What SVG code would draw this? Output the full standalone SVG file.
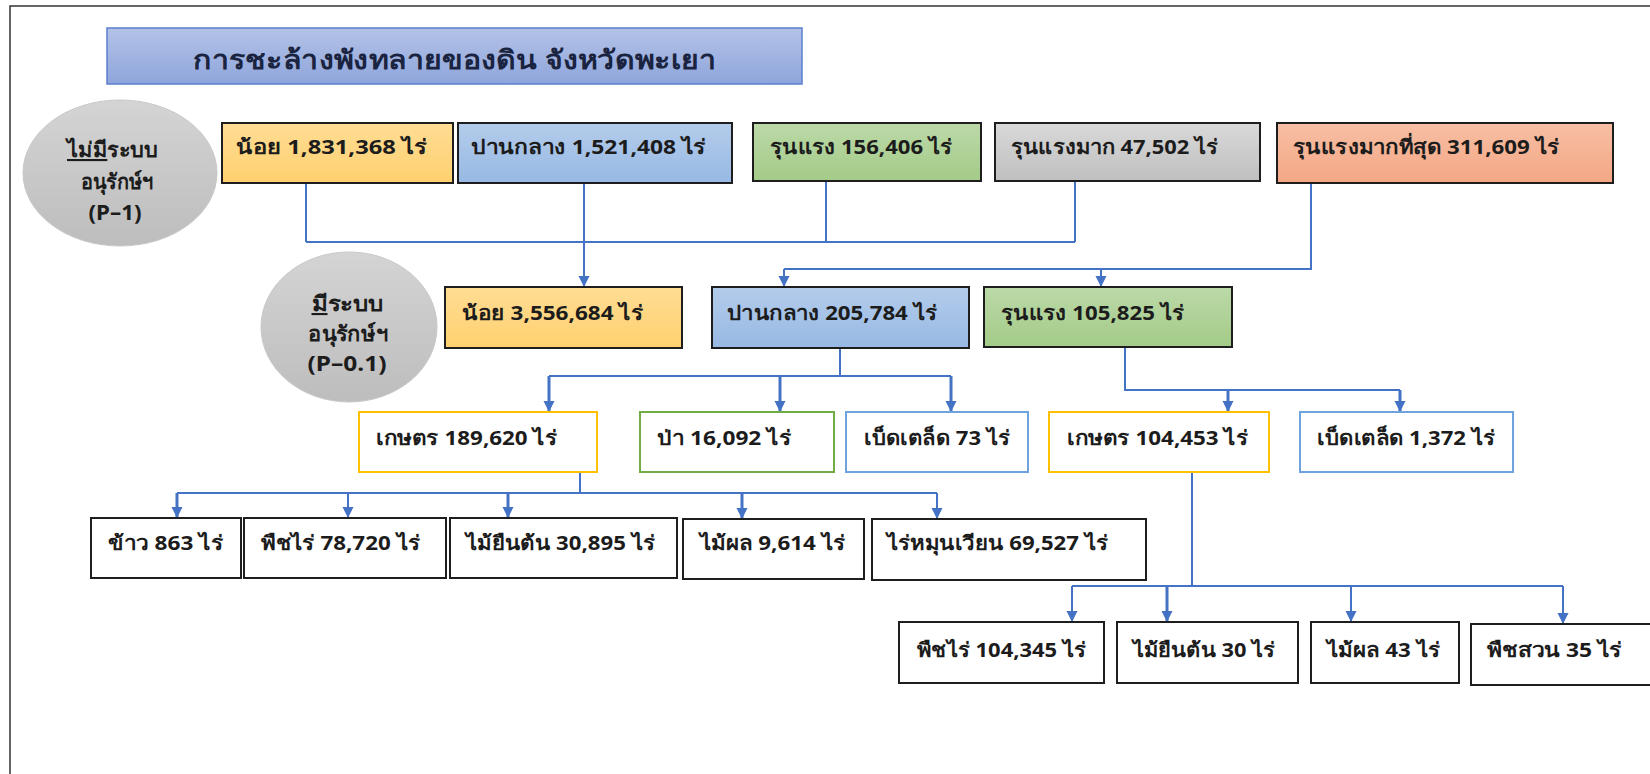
<svg xmlns="http://www.w3.org/2000/svg" width="1650" height="774" viewBox="0 0 1650 774">
  <defs>
    <linearGradient id="gTitle" x1="0" y1="0" x2="0" y2="1">
      <stop offset="0" stop-color="#b3c2e6"/>
      <stop offset="1" stop-color="#8fa6dc"/>
    </linearGradient>
    <linearGradient id="gCircle" x1="0" y1="0" x2="0" y2="1">
      <stop offset="0" stop-color="#d4d4d4"/>
      <stop offset="1" stop-color="#bdbdbd"/>
    </linearGradient>
    <linearGradient id="gYellow" x1="0" y1="0" x2="0" y2="1">
      <stop offset="0" stop-color="#ffdd94"/>
      <stop offset="1" stop-color="#ffd06f"/>
    </linearGradient>
    <linearGradient id="gBlue" x1="0" y1="0" x2="0" y2="1">
      <stop offset="0" stop-color="#b4cceb"/>
      <stop offset="1" stop-color="#97b9e3"/>
    </linearGradient>
    <linearGradient id="gGreen" x1="0" y1="0" x2="0" y2="1">
      <stop offset="0" stop-color="#bcd9a8"/>
      <stop offset="1" stop-color="#a3cb88"/>
    </linearGradient>
    <linearGradient id="gGray" x1="0" y1="0" x2="0" y2="1">
      <stop offset="0" stop-color="#d9d9d9"/>
      <stop offset="1" stop-color="#bfbfbf"/>
    </linearGradient>
    <linearGradient id="gSalmon" x1="0" y1="0" x2="0" y2="1">
      <stop offset="0" stop-color="#f7bfa4"/>
      <stop offset="1" stop-color="#f4a785"/>
    </linearGradient>
    <marker id="arrow" viewBox="0 0 10 10" refX="10" refY="5" markerWidth="11" markerHeight="13" markerUnits="userSpaceOnUse" orient="auto">
      <path d="M0,0 L10,5 L0,10 z" fill="#4472c4"/>
    </marker>
    <style>
      text { font-family: "Noto Sans", "DejaVu Sans", sans-serif; font-weight: bold; fill: #1c1c1c; }
      .lbl { font-size: 20px; }
      .ttl { font-size: 26px; fill: #1a2440; }
      .cir { font-size: 21px; text-anchor: middle; }
      .solid { stroke: #1e1e1e; stroke-width: 2; }
      .plain { fill: #ffffff; stroke: #1e1e1e; stroke-width: 2; }
      .gold { fill: #ffffff; stroke: #ffc000; stroke-width: 2; }
      .leaf { fill: #ffffff; stroke: #70ad47; stroke-width: 2; }
      .sky { fill: #ffffff; stroke: #6fa3dd; stroke-width: 2; }
      .con { fill: none; stroke: #4472c4; stroke-width: 2; }
      .drop { fill: none; stroke: #4472c4; stroke-width: 3; marker-end: url(#arrow); }
      .drop2 { fill: none; stroke: #4472c4; stroke-width: 2; marker-end: url(#arrow); }
    </style>
  </defs>

  <rect x="0" y="0" width="1650" height="774" fill="#ffffff"/>
  <!-- page frame -->
  <path d="M10,774 V6 H1650" fill="none" stroke="#333333" stroke-width="1.5"/>

  <!-- title banner -->
  <g id="title">
    <rect x="107" y="28" width="695" height="56" fill="url(#gTitle)" stroke="#5b7fcf" stroke-width="1.5"/>
    <text class="ttl" x="193" y="69" textLength="523" lengthAdjust="spacingAndGlyphs">การชะล้างพังทลายของดิน จังหวัดพะเยา</text>
  </g>

  <!-- conservation-status circles -->
  <g id="no-conservation">
    <ellipse cx="120" cy="173" rx="97" ry="73" fill="url(#gCircle)" stroke="#c8c8c8" stroke-width="1"/>
    <text class="cir" x="112" y="157" textLength="90" lengthAdjust="spacingAndGlyphs"><tspan text-decoration="underline">ไม่มี</tspan>ระบบ</text>
    <text class="cir" x="117" y="189" textLength="73" lengthAdjust="spacingAndGlyphs">อนุรักษ์ฯ</text>
    <text class="cir" x="115" y="220" textLength="53" lengthAdjust="spacingAndGlyphs">(P–1)</text>
  </g>
  <g id="with-conservation">
    <ellipse cx="349" cy="327" rx="88" ry="75" fill="url(#gCircle)" stroke="#c8c8c8" stroke-width="1"/>
    <text class="cir" x="347" y="311" textLength="71" lengthAdjust="spacingAndGlyphs"><tspan text-decoration="underline">มี</tspan>ระบบ</text>
    <text class="cir" x="348" y="341" textLength="80" lengthAdjust="spacingAndGlyphs">อนุรักษ์ฯ</text>
    <text class="cir" x="347" y="371" textLength="79" lengthAdjust="spacingAndGlyphs">(P–0.1)</text>
  </g>

  <!-- connectors -->
  <g id="connectors">
    <path class="con" d="M306,183 V242 M826,181 V242 M1075,181 V242 M306,242 H1075"/>
    <path class="drop2" d="M584,183 V287"/>
    <path class="con" d="M1311,183 V269 H784"/>
    <path class="drop2" d="M784,269 V287"/>
    <path class="drop2" d="M1101,269 V287"/>

    <path class="con" d="M840,348 V376 M549,376 H951"/>
    <path class="drop" d="M549,376 V412"/>
    <path class="drop" d="M780,376 V412"/>
    <path class="drop" d="M951,376 V412"/>

    <path class="con" d="M1125,347 V390 H1400"/>
    <path class="drop" d="M1228,390 V412"/>
    <path class="drop" d="M1400,390 V412"/>

    <path class="con" d="M580,472 V493 M177,493 H937"/>
    <path class="drop" d="M177,493 V518"/>
    <path class="drop2" d="M348,493 V518"/>
    <path class="drop" d="M508,493 V518"/>
    <path class="drop" d="M742,493 V519"/>
    <path class="drop2" d="M937,493 V519"/>

    <path class="con" d="M1192,472 V586 M1072,586 H1563"/>
    <path class="drop2" d="M1072,586 V622"/>
    <path class="drop" d="M1167,586 V622"/>
    <path class="drop2" d="M1351,586 V622"/>
    <path class="drop2" d="M1563,586 V624"/>
  </g>

  <!-- erosion classes without conservation -->
  <g id="p1-low">
    <rect class="solid" x="222" y="123" width="231" height="60" fill="url(#gYellow)"/>
    <text class="lbl" x="236" y="154" textLength="191" lengthAdjust="spacingAndGlyphs">น้อย 1,831,368 ไร่</text>
  </g>
  <g id="p1-moderate">
    <rect class="solid" x="458" y="123" width="274" height="60" fill="url(#gBlue)"/>
    <text class="lbl" x="471" y="154" textLength="235" lengthAdjust="spacingAndGlyphs">ปานกลาง 1,521,408 ไร่</text>
  </g>
  <g id="p1-severe">
    <rect class="solid" x="753" y="123" width="228" height="58" fill="url(#gGreen)"/>
    <text class="lbl" x="770" y="154" textLength="182" lengthAdjust="spacingAndGlyphs">รุนแรง 156,406 ไร่</text>
  </g>
  <g id="p1-very-severe">
    <rect class="solid" x="995" y="123" width="265" height="58" fill="url(#gGray)"/>
    <text class="lbl" x="1011" y="154" textLength="207" lengthAdjust="spacingAndGlyphs">รุนแรงมาก 47,502 ไร่</text>
  </g>
  <g id="p1-extreme">
    <rect class="solid" x="1277" y="123" width="336" height="60" fill="url(#gSalmon)"/>
    <text class="lbl" x="1293" y="154" textLength="266" lengthAdjust="spacingAndGlyphs">รุนแรงมากที่สุด 311,609 ไร่</text>
  </g>

  <!-- erosion classes with conservation -->
  <g id="p01-low">
    <rect class="solid" x="445" y="287" width="237" height="61" fill="url(#gYellow)"/>
    <text class="lbl" x="462" y="320" textLength="181" lengthAdjust="spacingAndGlyphs">น้อย 3,556,684 ไร่</text>
  </g>
  <g id="p01-moderate">
    <rect class="solid" x="712" y="287" width="257" height="61" fill="url(#gBlue)"/>
    <text class="lbl" x="727" y="320" textLength="210" lengthAdjust="spacingAndGlyphs">ปานกลาง 205,784 ไร่</text>
  </g>
  <g id="p01-severe">
    <rect class="solid" x="984" y="287" width="248" height="60" fill="url(#gGreen)"/>
    <text class="lbl" x="1001" y="320" textLength="183" lengthAdjust="spacingAndGlyphs">รุนแรง 105,825 ไร่</text>
  </g>

  <!-- land use under moderate erosion -->
  <g id="mod-farm">
    <rect class="gold" x="359" y="412" width="238" height="60"/>
    <text class="lbl" x="376" y="445" textLength="181" lengthAdjust="spacingAndGlyphs">เกษตร 189,620 ไร่</text>
  </g>
  <g id="mod-forest">
    <rect class="leaf" x="640" y="412" width="194" height="60"/>
    <text class="lbl" x="657" y="445" textLength="134" lengthAdjust="spacingAndGlyphs">ป่า 16,092 ไร่</text>
  </g>
  <g id="mod-misc">
    <rect class="sky" x="846" y="412" width="182" height="60"/>
    <text class="lbl" x="864" y="445" textLength="146" lengthAdjust="spacingAndGlyphs">เบ็ดเตล็ด 73 ไร่</text>
  </g>

  <!-- land use under severe erosion -->
  <g id="sev-farm">
    <rect class="gold" x="1049" y="412" width="220" height="60"/>
    <text class="lbl" x="1067" y="445" textLength="181" lengthAdjust="spacingAndGlyphs">เกษตร 104,453 ไร่</text>
  </g>
  <g id="sev-misc">
    <rect class="sky" x="1300" y="412" width="213" height="60"/>
    <text class="lbl" x="1317" y="445" textLength="178" lengthAdjust="spacingAndGlyphs">เบ็ดเตล็ด 1,372 ไร่</text>
  </g>

  <!-- crops under moderate erosion -->
  <g id="mod-rice">
    <rect class="plain" x="91" y="518" width="150" height="60"/>
    <text class="lbl" x="108" y="550" textLength="115" lengthAdjust="spacingAndGlyphs">ข้าว 863 ไร่</text>
  </g>
  <g id="mod-field">
    <rect class="plain" x="244" y="518" width="202" height="60"/>
    <text class="lbl" x="261" y="550" textLength="159" lengthAdjust="spacingAndGlyphs">พืชไร่ 78,720 ไร่</text>
  </g>
  <g id="mod-perennial">
    <rect class="plain" x="450" y="518" width="227" height="60"/>
    <text class="lbl" x="466" y="550" textLength="189" lengthAdjust="spacingAndGlyphs">ไม้ยืนต้น 30,895 ไร่</text>
  </g>
  <g id="mod-fruit">
    <rect class="plain" x="683" y="519" width="181" height="60"/>
    <text class="lbl" x="700" y="550" textLength="145" lengthAdjust="spacingAndGlyphs">ไม้ผล 9,614 ไร่</text>
  </g>
  <g id="mod-shifting">
    <rect class="plain" x="872" y="519" width="274" height="61"/>
    <text class="lbl" x="887" y="550" textLength="221" lengthAdjust="spacingAndGlyphs">ไร่หมุนเวียน 69,527 ไร่</text>
  </g>

  <!-- crops under severe erosion -->
  <g id="sev-field">
    <rect class="plain" x="899" y="622" width="205" height="61"/>
    <text class="lbl" x="917" y="657" textLength="169" lengthAdjust="spacingAndGlyphs">พืชไร่ 104,345 ไร่</text>
  </g>
  <g id="sev-perennial">
    <rect class="plain" x="1117" y="622" width="181" height="61"/>
    <text class="lbl" x="1133" y="657" textLength="142" lengthAdjust="spacingAndGlyphs">ไม้ยืนต้น 30 ไร่</text>
  </g>
  <g id="sev-fruit">
    <rect class="plain" x="1311" y="622" width="148" height="61"/>
    <text class="lbl" x="1327" y="657" textLength="113" lengthAdjust="spacingAndGlyphs">ไม้ผล 43 ไร่</text>
  </g>
  <g id="sev-garden">
    <rect class="plain" x="1471" y="624" width="190" height="61"/>
    <text class="lbl" x="1487" y="657" textLength="135" lengthAdjust="spacingAndGlyphs">พืชสวน 35 ไร่</text>
  </g>
</svg>
